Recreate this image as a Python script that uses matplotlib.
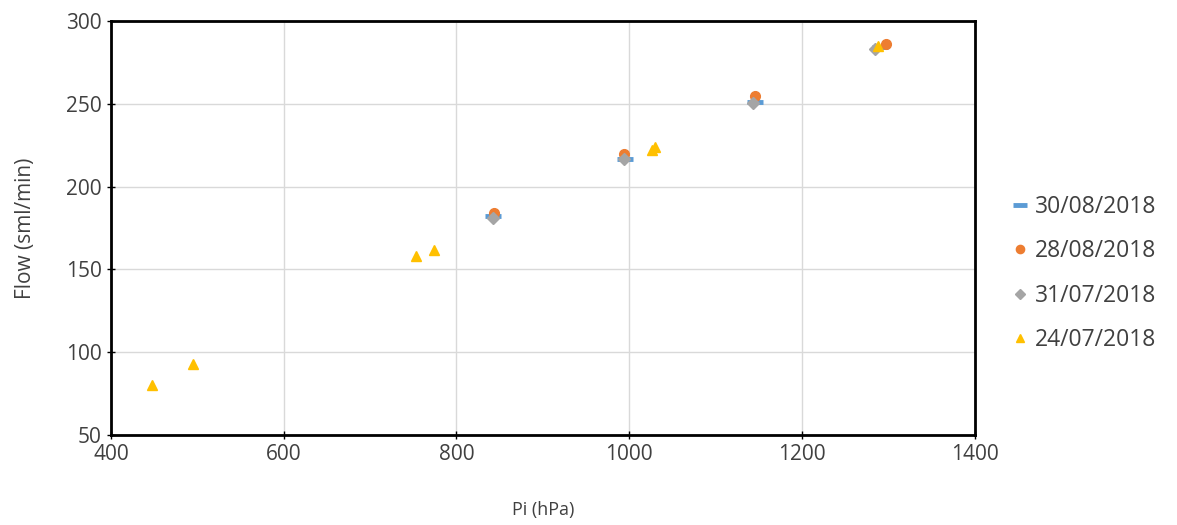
import matplotlib.pyplot as plt

# Pi (hPa) / Flow (sml/min) per measurement day
labels = ['30/08/2018', '28/08/2018', '31/07/2018', '24/07/2018']

pi_3008 = [842, 995, 1146, 1291]
flow_3008 = [182, 216.5, 251, 284]

pi_2808 = [843, 994, 1146, 1298]
flow_2808 = [184, 219.5, 255, 286]

pi_3107 = [842, 994, 1143, 1285]
flow_3107 = [181, 216.5, 250.5, 283]

pi_2407 = [447, 495, 753, 774, 1026, 1030, 1288]
flow_2407 = [80.5, 93, 158, 162, 222, 224, 285]

plt.rcParams['font.family'] = ['Open Sans', 'DejaVu Sans']

fig = plt.figure(figsize=(11.77, 5.25), dpi=100)
ax = fig.add_axes([0.0943, 0.1714, 0.7337, 0.7886])

ax.plot(pi_3008, flow_3008, linestyle='none', marker='_', markersize=12,
        markeredgewidth=3.5, color='#5B9BD5', label=labels[0], zorder=3)
ax.plot(pi_2808, flow_2808, linestyle='none', marker='o', markersize=7,
        color='#ED7D31', label=labels[1], zorder=4)
ax.plot(pi_3107, flow_3107, linestyle='none', marker='D', markersize=6,
        color='#A5A5A5', label=labels[2], zorder=5)
ax.plot(pi_2407, flow_2407, linestyle='none', marker='^', markersize=7,
        color='#FFC000', label=labels[3], zorder=6)

ax.set_xlim(400, 1400)
ax.set_ylim(50, 300)
ax.set_xticks(range(400, 1401, 200))
ax.set_yticks(range(50, 301, 50))
ax.grid(True, color='#D9D9D9', linewidth=1)
ax.set_axisbelow(True)
for s in ax.spines.values():
    s.set_color('black')
    s.set_linewidth(2)
ax.tick_params(direction='inout', length=6, width=1, labelsize=15,
               colors='black', labelcolor='#404040')

ax.set_xlabel('Pi (hPa)', fontsize=13, color='#404040', labelpad=26)
ax.set_ylabel('Flow (sml/min)', fontsize=15, color='#404040', labelpad=22)

ax.legend(loc='center left', bbox_to_anchor=(1.02, 0.39), frameon=False,
          fontsize=16.5, handlelength=0.7, handletextpad=0.3,
          labelspacing=0.9, markerscale=0.85, labelcolor='#404040')

fig.savefig('out.png', dpi=100)
